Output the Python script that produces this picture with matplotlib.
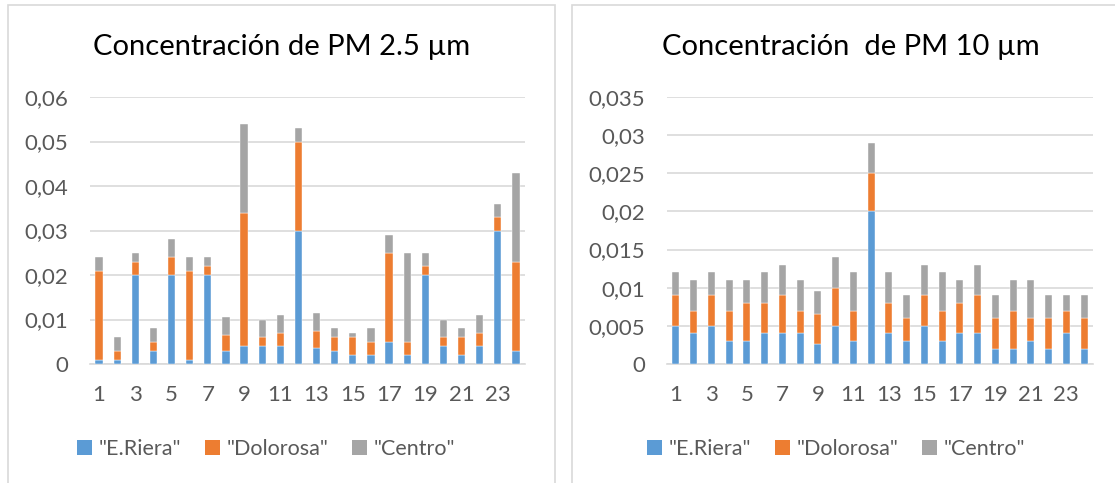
import numpy as np
import matplotlib
matplotlib.use('Agg')
import matplotlib.pyplot as plt
from matplotlib.patches import Rectangle, Patch
from matplotlib.ticker import FuncFormatter

plt.rcParams['font.family'] = ['Lato', 'DejaVu Sans']

hours = list(range(1, 25))
series = ['"E.Riera"', '"Dolorosa"', '"Centro"']
colors = ['#5B9BD5', '#ED7D31', '#A5A5A5']

# PM 2.5
pm25_riera = [0.001, 0.001, 0.020, 0.003, 0.020, 0.001, 0.020, 0.003, 0.004, 0.004, 0.004, 0.030,
              0.0035, 0.003, 0.002, 0.002, 0.005, 0.002, 0.020, 0.004, 0.002, 0.004, 0.030, 0.003]
pm25_dolorosa = [0.020, 0.002, 0.003, 0.002, 0.004, 0.020, 0.002, 0.0035, 0.030, 0.002, 0.003, 0.020,
                 0.004, 0.003, 0.004, 0.003, 0.020, 0.003, 0.002, 0.002, 0.004, 0.003, 0.003, 0.020]
pm25_centro = [0.003, 0.003, 0.002, 0.003, 0.004, 0.003, 0.002, 0.004, 0.020, 0.004, 0.004, 0.003,
               0.004, 0.002, 0.001, 0.003, 0.004, 0.020, 0.003, 0.004, 0.002, 0.004, 0.003, 0.020]

# PM 10
pm10_riera = [0.005, 0.004, 0.005, 0.003, 0.003, 0.004, 0.004, 0.004, 0.0026, 0.005, 0.003, 0.020,
              0.004, 0.003, 0.005, 0.003, 0.004, 0.004, 0.002, 0.002, 0.003, 0.002, 0.004, 0.002]
pm10_dolorosa = [0.004, 0.003, 0.004, 0.004, 0.005, 0.004, 0.005, 0.003, 0.004, 0.005, 0.004, 0.005,
                 0.004, 0.003, 0.004, 0.004, 0.004, 0.005, 0.004, 0.005, 0.003, 0.004, 0.003, 0.004]
pm10_centro = [0.003, 0.004, 0.003, 0.004, 0.003, 0.004, 0.004, 0.004, 0.003, 0.004, 0.005, 0.004,
               0.004, 0.003, 0.004, 0.005, 0.003, 0.004, 0.003, 0.004, 0.005, 0.003, 0.002, 0.003]

W, H = 1115, 483
fig = plt.figure(figsize=(W / 100, H / 100), dpi=100)

# chart borders (Excel-style boxes)
for x0, x1 in [(8, 555), (572, 1125)]:
    fig.patches.append(Rectangle((x0 / W, -0.02), (x1 - x0) / W, 1.02 - 5 / H,
                                 transform=fig.transFigure, fill=False,
                                 edgecolor='#D9D9D9', linewidth=1.2))

comma = FuncFormatter(lambda v, p: f'{v:g}'.replace('.', ','))


def stacked(ax, data, ymax, ystep):
    bottom = np.zeros(len(hours))
    for vals, c in zip(data, colors):
        ax.bar(hours, vals, width=0.4, bottom=bottom, color=c,
               edgecolor='white', linewidth=0.3, zorder=3)
        bottom += np.array(vals)
    ax.set_xlim(0.5, 24.5)
    ax.set_ylim(0, ymax)
    ax.set_yticks(np.arange(0, ymax + ystep / 2, ystep))
    ax.yaxis.set_major_formatter(comma)
    ax.set_xticks(hours[::2])
    ax.grid(axis='y', color='#D9D9D9', linewidth=1.2, zorder=0)
    for s in ['top', 'right', 'left']:
        ax.spines[s].set_visible(False)
    ax.spines['bottom'].set_color('#D9D9D9')
    ax.spines['bottom'].set_linewidth(1.2)
    ax.tick_params(length=0, labelsize=16, colors='#595959')
    ax.tick_params(axis='y', pad=16)
    ax.tick_params(axis='x', pad=15)


ax1 = fig.add_axes([90 / W, 1 - 364 / H, 435 / W, 267 / H])
stacked(ax1, [pm25_riera, pm25_dolorosa, pm25_centro], 0.06, 0.01)
ax2 = fig.add_axes([667 / W, 1 - 364 / H, 426 / W, 267 / H])
stacked(ax2, [pm10_riera, pm10_dolorosa, pm10_centro], 0.035, 0.005)

fig.text(282 / W, 1 - 47 / H, 'Concentración de PM 2.5 µm', ha='center', va='center',
         fontsize=21, color='black')
fig.text(851 / W, 1 - 47 / H, 'Concentración  de PM 10 µm', ha='center', va='center',
         fontsize=21, color='black')

handles = [Patch(facecolor=c, label=s) for c, s in zip(colors, series)]
for cx in [266 / W, 836 / W]:
    leg = fig.legend(handles=handles, loc='center', bbox_to_anchor=(cx, 1 - 449 / H),
                     ncol=3, frameon=False, fontsize=15.5, handlelength=0.7,
                     handleheight=0.7, handletextpad=0.3, columnspacing=1.1)
    for t in leg.get_texts():
        t.set_color('#595959')

fig.savefig('out.png', dpi=100)
